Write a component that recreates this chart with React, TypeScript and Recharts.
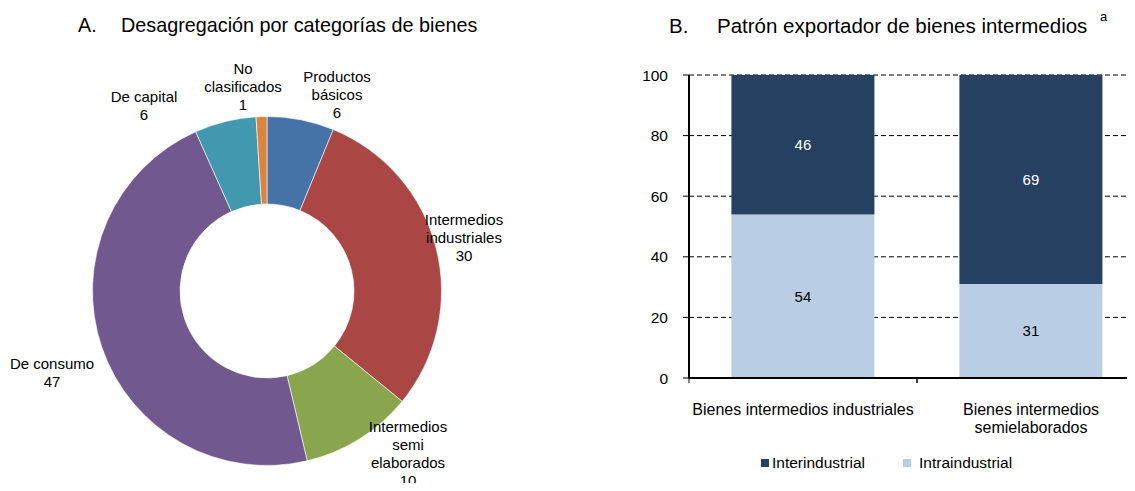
import { PieChart, Pie, Cell, BarChart, Bar, XAxis, YAxis, CartesianGrid, Legend, LabelList } from 'recharts';

const SLICE_NAMES = ['Productos\nbásicos', 'Intermedios\nindustriales', 'Intermedios\nsemi\nelaborados', 'De consumo', 'De capital', 'No\nclasificados'];
const SLICE_VALUES = [6.2, 29.7, 10.4, 47.0, 5.7, 1.0];
const SLICE_COLORS = ['#4572A7', '#AA4643', '#89A54E', '#71588F', '#4198AF', '#DB843D'];

const BAR_CATEGORIES = ['Bienes intermedios industriales', 'Bienes intermedios\nsemielaborados'];
const INTRA_VALUES = [54, 31];
const INTER_VALUES = [46, 69];
const Y_TICKS = [0, 20, 40, 60, 80, 100];

const DARK = '#254061';
const LIGHT = '#B9CDE5';
const FONT = '"Liberation Sans", Arial, sans-serif';

const pieData = SLICE_NAMES.map((name, i) => ({ name, value: SLICE_VALUES[i] }));
const barData = BAR_CATEGORIES.map((cat, i) => ({ cat, intra: INTRA_VALUES[i], inter: INTER_VALUES[i] }));

// where each label block sits, relative to the pie centre (first line)
const LABEL_POS: [number, number][] = [
  [70, -215],
  [197, -72],
  [141, 135],
  [-215, 72],
  [-123, -195],
  [-24, -223],
];

const renderPieLabel = (props: any) => {
  const { cx, cy, index, value, name } = props;
  const [dx, dy] = LABEL_POS[index];
  const lines = [...String(name).split('\n'), String(Math.round(value))];
  return (
    <text x={cx + dx} y={cy + dy} textAnchor="middle" fill="#000" fontSize={15} fontFamily={FONT}>
      {lines.map((l, i) => (
        <tspan key={i} x={cx + dx} y={cy + dy + i * 18.3} dominantBaseline="central">
          {l}
        </tspan>
      ))}
    </text>
  );
};

const CategoryTick = (props: any) => {
  const { x, y, payload } = props;
  const lines = String(payload.value).split('\n');
  const off = payload.offset || 0;
  return (
    <g>
      <line x1={x - off} x2={x - off} y1={y} y2={y + 5} stroke="#000" />
      <line x1={x + off} x2={x + off} y1={y} y2={y + 5} stroke="#000" />
      <text x={x} y={y + 37} textAnchor="middle" fill="#000" fontSize={16} fontFamily={FONT}>
        {lines.map((l, i) => (
          <tspan key={i} x={x} y={y + 37 + i * 18}>
            {l}
          </tspan>
        ))}
      </text>
    </g>
  );
};

const LegendContent = () => (
  <div style={{ height: 20, display: 'flex', alignItems: 'center', paddingLeft: 141, fontSize: 15.5, fontFamily: FONT, color: '#000' }}>
    <span style={{ width: 8, height: 8, background: DARK, display: 'inline-block', marginRight: 3 }} />
    <span style={{ marginRight: 38 }}>Interindustrial</span>
    <span style={{ width: 8, height: 8, background: LIGHT, display: 'inline-block', marginRight: 8 }} />
    <span>Intraindustrial</span>
  </div>
);

const App = () => {
  return (
    <div style={{ position: 'relative', width: 1135, height: 491, margin: -8, overflow: 'hidden', background: '#fff', fontFamily: FONT, color: '#000' }}>
      <div style={{ position: 'absolute', left: 78, top: 14, fontSize: 19.8, whiteSpace: 'nowrap' }}>A.</div>
      <div style={{ position: 'absolute', left: 121, top: 14, fontSize: 19.8, whiteSpace: 'nowrap' }}>
        Desagregación por categorías de bienes
      </div>
      <div style={{ position: 'absolute', left: 669, top: 14, fontSize: 20.5, whiteSpace: 'nowrap' }}>B.</div>
      <div style={{ position: 'absolute', left: 717, top: 14, fontSize: 20.5, whiteSpace: 'nowrap' }}>
        Patrón exportador de bienes intermedios
      </div>
      <div style={{ position: 'absolute', left: 1100, top: 9, fontSize: 13, whiteSpace: 'nowrap' }}>a</div>

      <div style={{ position: 'absolute', left: 0, top: 0 }}>
        <PieChart width={560} height={491} margin={{ top: 0, right: 0, bottom: 0, left: 0 }}>
          <Pie
            data={pieData}
            dataKey="value"
            nameKey="name"
            cx={267}
            cy={291}
            innerRadius={87}
            outerRadius={174.5}
            startAngle={90}
            endAngle={-270}
            stroke="#fff"
            strokeWidth={0.6}
            labelLine={false}
            label={renderPieLabel}
            isAnimationActive={false}
          >
            {pieData.map((_, i) => (
              <Cell key={`cell-${i}`} fill={SLICE_COLORS[i]} />
            ))}
          </Pie>
        </PieChart>
      </div>

      <div style={{ position: 'absolute', left: 620, top: 0 }}>
        <BarChart width={540} height={491} data={barData} margin={{ top: 75, right: 15, bottom: 18, left: 0 }} barCategoryGap="18.6%">
          <CartesianGrid vertical={false} stroke="#000" strokeDasharray="5 3" />
          <XAxis
            dataKey="cat"
            height={75}
            tickLine={false}
            tickSize={0}
            tickMargin={0}
            axisLine={{ stroke: '#000', strokeWidth: 2 }}
            tick={<CategoryTick />}
            interval={0}
          />
          <YAxis
            width={69}
            domain={[0, 100]}
            ticks={Y_TICKS}
            tickSize={6}
            tickMargin={15}
            axisLine={{ stroke: '#000', strokeWidth: 2 }}
            tickLine={{ stroke: '#000' }}
            tick={{ fill: '#000', fontSize: 15.5, fontFamily: FONT }}
            interval={0}
          />
          <Legend verticalAlign="bottom" content={<LegendContent />} wrapperStyle={{ left: 0, width: 540 }} />
          <Bar dataKey="intra" name="Intraindustrial" stackId="s" fill={LIGHT} isAnimationActive={false}>
            <LabelList dataKey="intra" position="center" fill="#000" fontSize={15} fontFamily={FONT} />
          </Bar>
          <Bar dataKey="inter" name="Interindustrial" stackId="s" fill={DARK} isAnimationActive={false}>
            <LabelList dataKey="inter" position="center" fill="#fff" fontSize={15} fontFamily={FONT} />
          </Bar>
        </BarChart>
      </div>
    </div>
  );
};

export default App;
